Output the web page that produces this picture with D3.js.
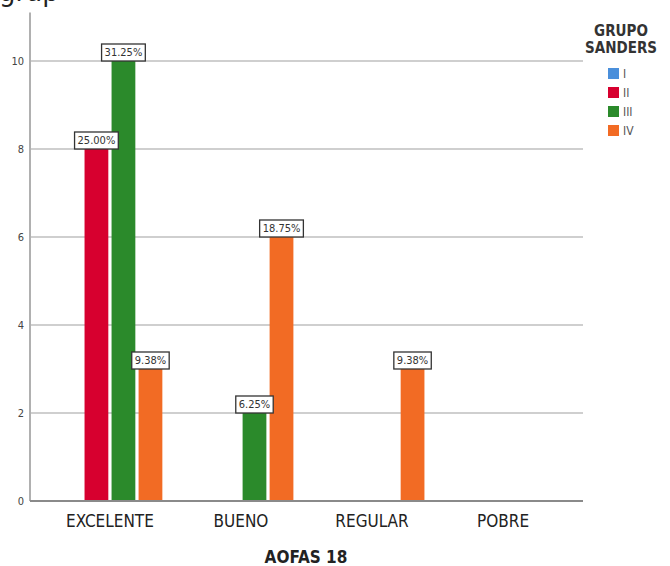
<!DOCTYPE html>
<html lang="es">
<head>
    <meta charset="UTF-8">
    <title>AOFAS 18 por grupo Sanders</title>
    <script src="https://d3js.org/d3.v7.min.js"></script>
    <style>
        body {
            margin: 0;
            background: #ffffff;
        }
        svg {
            display: block;
        }
        .tick-label {
            font-family: "DejaVu Sans Condensed", "Liberation Sans Narrow", sans-serif;
            font-size: 11px;
            fill: #444;
        }
        .cat-label {
            font-family: "DejaVu Sans Condensed", "Liberation Sans Narrow", sans-serif;
            font-size: 17px;
            fill: #222;
        }
        .axis-title {
            font-family: "DejaVu Sans Condensed", "Liberation Sans Narrow", sans-serif;
            font-size: 17px;
            font-weight: bold;
            fill: #222;
        }
        .bar-label {
            font-family: "DejaVu Sans Condensed", "Liberation Sans Narrow", sans-serif;
            font-size: 11px;
            fill: #333;
        }
        .legend-title {
            font-family: "DejaVu Sans Condensed", "Liberation Sans Narrow", sans-serif;
            font-size: 15px;
            font-weight: bold;
            fill: #333;
        }
        .legend-label {
            font-family: "DejaVu Sans Condensed", "Liberation Sans Narrow", sans-serif;
            font-size: 12px;
            fill: #555;
        }
    </style>
</head>
<body>
    <svg></svg>

    <script>
        // Datos
        const categories = ["EXCELENTE", "BUENO", "REGULAR", "POBRE"];
        const groups = ["I", "II", "III", "IV"];
        const colors = ["#4a8fdb", "#d7002f", "#2b8a2b", "#f26b24"];
        // conteos por grupo, en el orden de categories
        const countsI   = [0, 0, 0, 0];
        const countsII  = [8, 0, 0, 0];
        const countsIII = [10, 2, 0, 0];
        const countsIV  = [3, 6, 3, 0];
        const yTicks = [0, 2, 4, 6, 8, 10];

        const series = [countsI, countsII, countsIII, countsIV];
        const total = d3.sum(series.flat());
        const fmtPct = v => d3.format(".2f")(v / total * 100) + "%";

        const data = [];
        categories.forEach((c, i) => {
            groups.forEach((g, j) => {
                data.push({ cat: c, group: g, value: series[j][i] });
            });
        });

        const width = 670;
        const height = 566;

        const svg = d3.select("svg")
            .attr("width", width)
            .attr("height", height);

        // texto cortado arriba (resto de la página)
        svg.append("text")
            .attr("x", -1)
            .attr("y", 1)
            .style("font-family", "DejaVu Sans, sans-serif")
            .style("font-size", "26px")
            .style("fill", "#222")
            .text("grap");

        const x0 = d3.scaleBand()
            .domain(categories)
            .range([30, 583])
            .paddingInner(0.2)
            .paddingOuter(0.21);

        const x1 = d3.scaleBand()
            .domain(groups)
            .range([0, x0.bandwidth()])
            .paddingInner(0.12);

        const y = d3.scaleLinear()
            .domain([0, 11.1])
            .range([501, 12.6]);

        const color = d3.scaleOrdinal().domain(groups).range(colors);

        // rejilla
        svg.append("g")
            .selectAll("line")
            .data(yTicks.filter(t => t > 0))
            .enter()
            .append("line")
            .attr("x1", 30)
            .attr("x2", 583)
            .attr("y1", d => y(d))
            .attr("y2", d => y(d))
            .attr("stroke", "#cfcfcf")
            .attr("stroke-width", 2);

        // eje y
        svg.append("line")
            .attr("x1", 30).attr("x2", 30)
            .attr("y1", y(11.1)).attr("y2", y(0))
            .attr("stroke", "#b0b0b0")
            .attr("stroke-width", 2);

        svg.append("g")
            .selectAll("text")
            .data(yTicks)
            .enter()
            .append("text")
            .attr("class", "tick-label")
            .attr("x", 24)
            .attr("y", d => y(d) + 4)
            .attr("text-anchor", "end")
            .text(d => d);

        // barras
        const bars = data.filter(d => d.value > 0);

        svg.append("g")
            .selectAll("rect")
            .data(bars)
            .enter()
            .append("rect")
            .attr("x", d => x0(d.cat) + x1(d.group))
            .attr("y", d => y(d.value))
            .attr("width", x1.bandwidth())
            .attr("height", d => y(0) - y(d.value))
            .attr("fill", d => color(d.group));

        // eje x
        svg.append("line")
            .attr("x1", 30).attr("x2", 583)
            .attr("y1", y(0)).attr("y2", y(0))
            .attr("stroke", "#8a8a8a")
            .attr("stroke-width", 2);

        svg.append("g")
            .selectAll("text")
            .data(categories)
            .enter()
            .append("text")
            .attr("class", "cat-label")
            .attr("x", d => x0(d) + x0.bandwidth() / 2)
            .attr("y", 527)
            .attr("text-anchor", "middle")
            .text(d => d);

        svg.append("text")
            .attr("class", "axis-title")
            .attr("x", 306)
            .attr("y", 563)
            .attr("text-anchor", "middle")
            .text("AOFAS 18");

        // etiquetas de porcentaje
        const labels = svg.append("g")
            .selectAll("g")
            .data(bars)
            .enter()
            .append("g")
            .attr("transform", d => `translate(${x0(d.cat) + x1(d.group) + x1.bandwidth() / 2}, ${y(d.value)})`);

        labels.append("text")
            .attr("class", "bar-label")
            .attr("x", 0)
            .attr("y", -5)
            .attr("text-anchor", "middle")
            .text(d => fmtPct(d.value));

        labels.each(function () {
            const t = d3.select(this).select("text");
            const w = t.node().getComputedTextLength() + 6;
            d3.select(this).insert("rect", "text")
                .attr("x", -w / 2)
                .attr("y", -17)
                .attr("width", w)
                .attr("height", 17)
                .attr("fill", "#fff")
                .attr("stroke", "#333")
                .attr("stroke-width", 1.3);
        });

        // leyenda
        const legend = svg.append("g");

        legend.append("text")
            .attr("class", "legend-title")
            .attr("x", 621)
            .attr("y", 36)
            .attr("text-anchor", "middle")
            .text("GRUPO");

        legend.append("text")
            .attr("class", "legend-title")
            .attr("x", 621)
            .attr("y", 53)
            .attr("text-anchor", "middle")
            .text("SANDERS");

        const items = legend.selectAll("g")
            .data(groups)
            .enter()
            .append("g")
            .attr("transform", (d, i) => `translate(608, ${68 + i * 19})`);

        items.append("rect")
            .attr("width", 11)
            .attr("height", 11)
            .attr("fill", d => color(d));

        items.append("text")
            .attr("class", "legend-label")
            .attr("x", 15)
            .attr("y", 10)
            .text(d => d);
    </script>
</body>
</html>
